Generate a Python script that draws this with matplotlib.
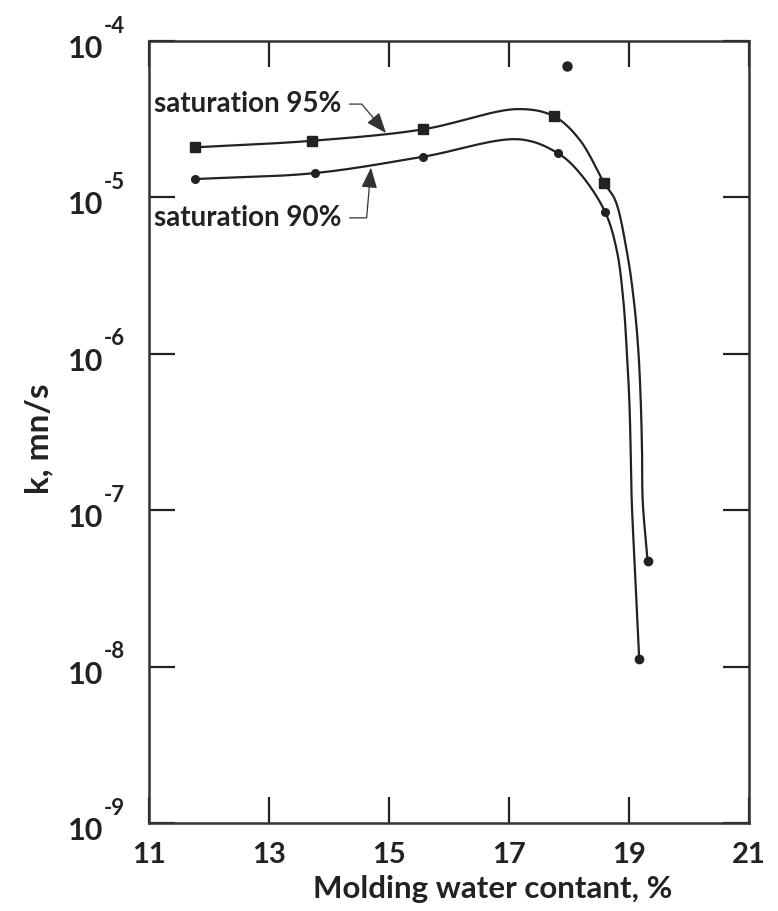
import numpy as np
import matplotlib
matplotlib.use("Agg")
import matplotlib.pyplot as plt
import matplotlib.transforms as mtransforms
from matplotlib.ticker import NullLocator

# ---------------- data ----------------
# measured points, saturation 95 % (squares)
water_95 = [11.77, 13.71, 15.56, 17.75, 18.59]
k_95 = [2.09e-5, 2.30e-5, 2.72e-5, 3.30e-5, 1.23e-5]
# measured points, saturation 90 % (circles)
water_90 = [11.77, 13.76, 15.57, 17.82, 18.60]
k_90 = [1.31e-5, 1.43e-5, 1.82e-5, 1.91e-5, 8.1e-6]
# end points of the two curves (dots)
water_end = [19.31, 19.17]
k_end = [4.73e-8, 1.12e-8]
# isolated point
water_extra = [17.96]
k_extra = [6.9e-5]

# traced fitted curves
curve95_x = [11.77, 13.71, 15.56, 17.15, 17.75, 18.18, 18.59, 18.77, 18.96, 19.08,
             19.155, 19.195, 19.217, 19.228, 19.31]
curve95_k = [2.09e-5, 2.30e-5, 2.72e-5, 3.67e-5, 3.30e-5, 2.33e-5, 1.23e-5, 9.6e-6, 4.61e-6, 2.21e-6,
             1.06e-6, 5.07e-7, 2.43e-7, 1.16e-7, 4.73e-8]
curve90_x = [11.77, 13.76, 15.57, 17.18, 17.82, 18.18, 18.60, 18.795, 18.905, 18.962,
             19.005, 19.028, 19.045, 19.108, 19.17]
curve90_k = [1.31e-5, 1.43e-5, 1.82e-5, 2.35e-5, 1.91e-5, 1.43e-5, 8.1e-6, 4.61e-6, 2.21e-6, 1.06e-6,
             5.07e-7, 2.43e-7, 1.16e-7, 3.58e-8, 1.12e-8]

x_ticks = [11, 13, 15, 17, 19, 21]
y_ticks = [1e-9, 1e-8, 1e-7, 1e-6, 1e-5, 1e-4]
y_tick_base = "10"
y_tick_exponents = ["-9", "-8", "-7", "-6", "-5", "-4"]

label_95 = "saturation 95%"
label_90 = "saturation 90%"
xlabel = "Molding water contant, %"
ylabel = "k, mn/s"

# ---------------- style ----------------
plt.rcParams['font.family'] = ['Lato', 'DejaVu Sans']
plt.rcParams['font.weight'] = 'bold'

INK = '#222222'


def smooth(xs, ks, n=40):
    """centripetal Catmull-Rom through traced points in (x, log10 k) space"""
    P = np.column_stack([(np.asarray(xs) - 11) * 60.0,
                         (np.log10(np.asarray(ks)) + 9) * 156.4])
    P = np.vstack([2 * P[0] - P[1], P, 2 * P[-1] - P[-2]])
    out = []
    for i in range(1, len(P) - 2):
        p0, p1, p2, p3 = P[i - 1], P[i], P[i + 1], P[i + 2]

        def tj(ti, a, b):
            return ti + np.linalg.norm(b - a) ** 0.5 + 1e-9
        t0 = 0.0
        t1 = tj(t0, p0, p1)
        t2 = tj(t1, p1, p2)
        t3 = tj(t2, p2, p3)
        t = np.linspace(t1, t2, n)[:, None]
        A1 = (t1 - t) / (t1 - t0) * p0 + (t - t0) / (t1 - t0) * p1
        A2 = (t2 - t) / (t2 - t1) * p1 + (t - t1) / (t2 - t1) * p2
        A3 = (t3 - t) / (t3 - t2) * p2 + (t - t2) / (t3 - t2) * p3
        B1 = (t2 - t) / (t2 - t0) * A1 + (t - t0) / (t2 - t0) * A2
        B2 = (t3 - t) / (t3 - t1) * A2 + (t - t1) / (t3 - t1) * A3
        C = (t2 - t) / (t2 - t1) * B1 + (t - t1) / (t2 - t1) * B2
        out.append(C)
    C = np.vstack(out)
    return C[:, 0] / 60.0 + 11, 10 ** (C[:, 1] / 156.4 - 9)


fig = plt.figure(figsize=(7.78, 9.11), dpi=100)
ax = fig.add_axes([149 / 778, 1 - 823 / 911, 600 / 778, 782 / 911])
ax.set_yscale('log')
ax.set_xlim(11, 21)
ax.set_ylim(1e-9, 1e-4)

sx, sy = smooth(curve95_x, curve95_k)
ax.plot(sx, sy, color=INK, lw=1.6, zorder=2)
sx, sy = smooth(curve90_x, curve90_k)
ax.plot(sx, sy, color=INK, lw=1.6, zorder=2)

ax.plot(water_95, k_95, ls='none', marker='s', ms=6.5, color=INK, zorder=3)
ax.plot(water_90, k_90, ls='none', marker='o', ms=5.5, color=INK, zorder=3)
ax.plot(water_end, k_end, ls='none', marker='o', ms=6, color=INK, zorder=3)
ax.plot(water_extra, k_extra, ls='none', marker='o', ms=6.5, color=INK, zorder=3)

arrow_kw = dict(arrowstyle='-|>,head_length=0.9,head_width=0.35', color='#333333',
                lw=0.9, shrinkA=4, shrinkB=0, mutation_scale=14, relpos=(1, 0.5))
ax.annotate(label_95, xy=(14.95, 2.58e-5), xytext=(11.08, 3.95e-5), textcoords='data',
            fontsize=20, fontweight='bold', color=INK, ha='left', va='center',
            arrowprops=dict(connectionstyle='angle,angleA=0,angleB=-50,rad=0', **arrow_kw))
ax.annotate(label_90, xy=(14.70, 1.55e-5), xytext=(11.08, 7.4e-6), textcoords='data',
            fontsize=20, fontweight='bold', color=INK, ha='left', va='center',
            arrowprops=dict(connectionstyle='angle,angleA=0,angleB=85,rad=0', **arrow_kw))

ax.set_xticks(x_ticks)
ax.set_xticklabels([str(v) for v in x_ticks])
ax.set_yticks(y_ticks)
ax.set_yticklabels([y_tick_base] * len(y_ticks))
ax.yaxis.set_minor_locator(NullLocator())
ax.xaxis.set_minor_locator(NullLocator())
ax.tick_params(axis='both', which='major', direction='in', length=19, width=1.6,
               color=INK, top=True, right=True, labelcolor=INK)
ax.tick_params(axis='x', pad=14, labelsize=21)
ax.tick_params(axis='y', pad=33, labelsize=22)
for lab in ax.get_yticklabels():
    lab.set_transform(lab.get_transform() + mtransforms.ScaledTranslation(0, -4 / 72, fig.dpi_scale_trans))

# exponents of the y tick labels, raised above the "10"
exp_tr = mtransforms.blended_transform_factory(ax.transAxes, ax.transData)
exp_tr = exp_tr + mtransforms.ScaledTranslation(0, 6 / 72, fig.dpi_scale_trans)
for yv, ex in zip(y_ticks, y_tick_exponents):
    ax.text(-0.075, yv, ex, transform=exp_tr, fontsize=16, fontweight='bold', color=INK,
            ha='left', va='baseline', clip_on=False)

for s in ax.spines.values():
    s.set_linewidth(1.8)
    s.set_color('#333333')

ax.set_xlabel(xlabel, fontsize=22.5, fontweight='bold', color=INK)
ax.xaxis.set_label_coords(0.5725, -0.066)
ax.set_ylabel(ylabel, fontsize=24, fontweight='bold', color=INK)
ax.yaxis.set_label_coords(-0.16, 0.491)

fig.savefig('out.png', dpi=100)
